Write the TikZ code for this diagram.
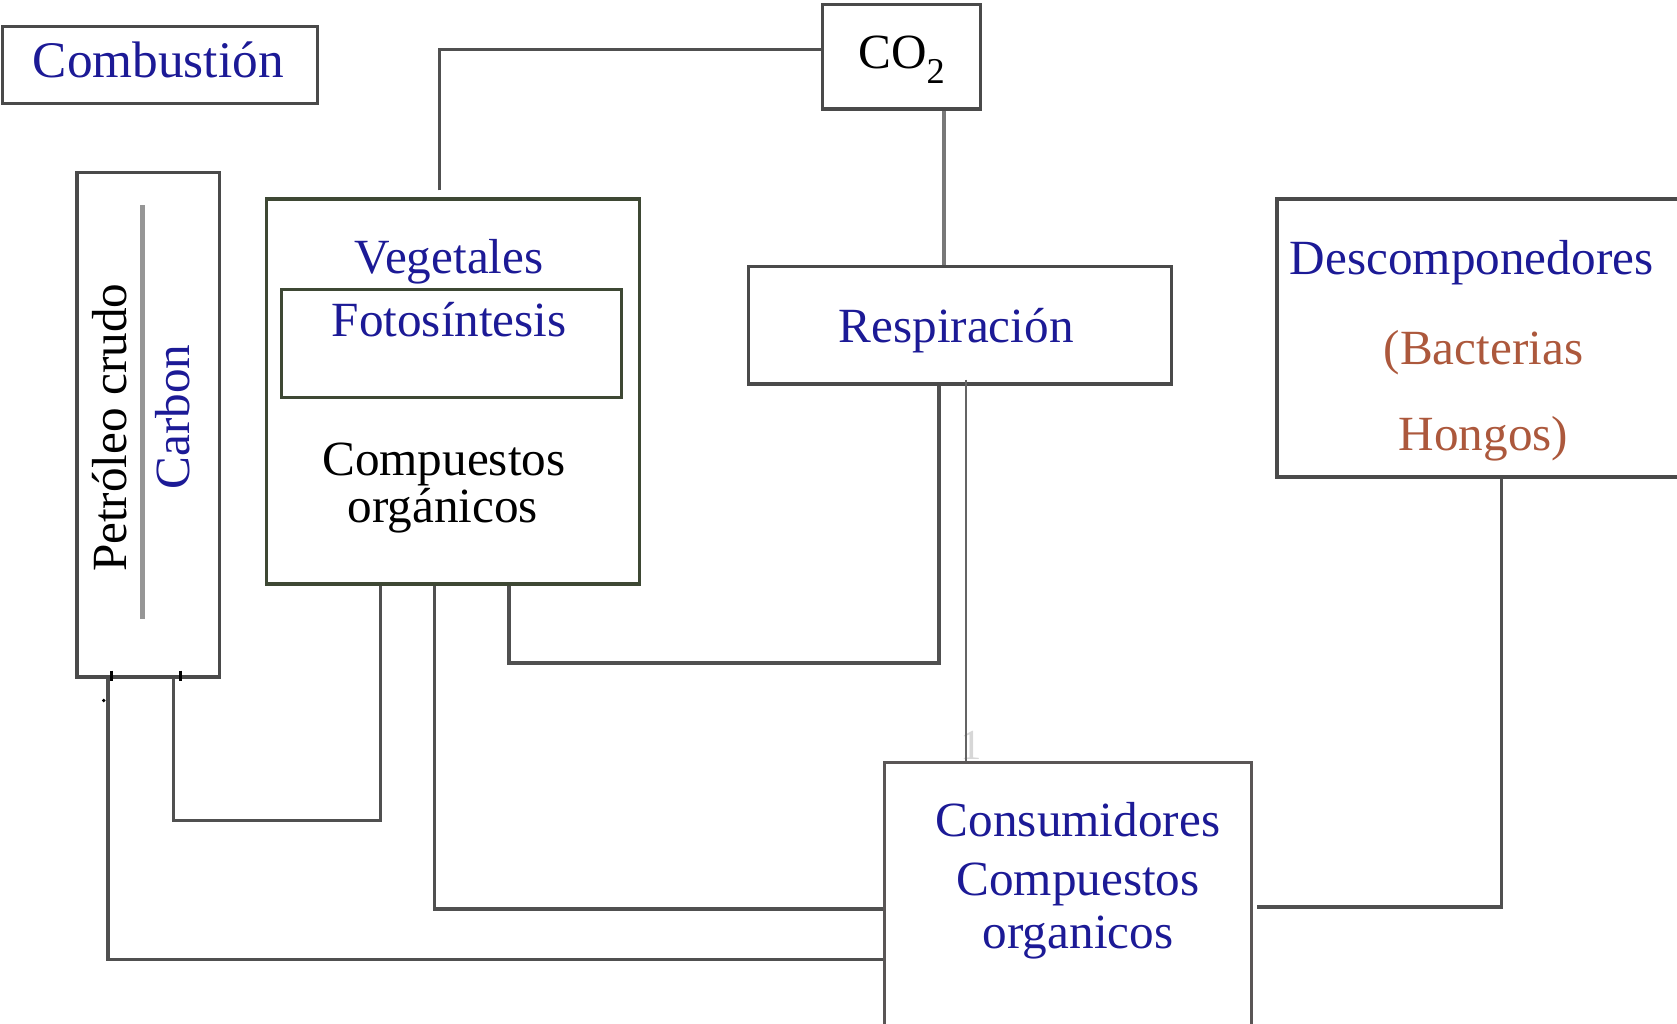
\documentclass[tikz,border=0pt]{standalone}
\usepackage{fontspec}
\setmainfont{Liberation Serif}
\definecolor{txtblue}{RGB}{28,26,150}
\definecolor{txtbrown}{RGB}{172,88,60}
\definecolor{boxgray}{RGB}{74,74,74}
\definecolor{boxolive}{RGB}{62,72,52}
\definecolor{linegray}{RGB}{80,80,80}
\definecolor{midgray}{RGB}{120,120,120}
\definecolor{softgray}{RGB}{150,150,150}
\begin{document}
\begin{tikzpicture}[x=1pt,y=-1pt,
  box/.style={draw=boxgray, line width=3pt, rectangle, inner sep=0pt},
  olivebox/.style={box, draw=boxolive},
  link/.style={draw=linegray, line width=3pt},
  lbl/.style={font=\fontsize{46}{50}\selectfont, anchor=base, inner sep=0pt},
  blue/.style={lbl, text=txtblue},
  brown/.style={lbl, text=txtbrown},
  black/.style={lbl, text=black}]

\useasboundingbox (0,0) rectangle (1568,957);
\clip (0,0) rectangle (1568,957);

% ---- boxes ----
\node[box, minimum width=295pt, minimum height=72pt] (comb) at (149.5,61) {};
\node[box, minimum width=148pt, minimum height=98pt] (co2) at (843,53) {};
\node[box, minimum width=133pt, minimum height=472pt] (pet) at (138.5,397) {};
\node[olivebox, minimum width=349pt, minimum height=360pt] (veg) at (423.5,366) {};
\node[olivebox, minimum width=318pt, minimum height=101pt] (foto) at (422,321.5) {};
\node[box, minimum width=395pt, minimum height=110pt] (resp) at (897.5,304) {};
\node[box, minimum width=390pt, minimum height=260pt] (desc) at (1389,316) {};
\node[box, draw={rgb,255:red,90;green,86;blue,86}, minimum width=343pt, minimum height=260pt] (cons) at (998.5,843) {};

% ---- labels ----
\node[blue, font=\fontsize{48}{52}\selectfont] (tcomb) at (148,72) {Combustión};
\node[black] (tco2) at (843,64) {CO\raisebox{-0.3em}{\fontsize{34}{34}\selectfont 2}};
\node[black, rotate=90] (tpet) at (118,400) {Petróleo crudo};
\node[blue, rotate=90] (tcarb) at (177,390) {Carbon};
\node[blue] (tveg) at (420,256) {Vegetales};
\node[blue] (tfoto) at (420,315) {Fotosíntesis};
\node[black] (tcomp) at (415,445) {Compuestos};
\node[black] (torg) at (414,489) {orgánicos};
\node[blue] (tresp) at (894,320) {Respiración};
\node[blue] (tdesc) at (1376,257) {Descomponedores};
\node[brown] (tbact) at (1387,341) {(Bacterias};
\node[brown] (thong) at (1387,421) {Hongos)};
\node[blue] (tcons) at (1008,782) {Consumidores};
\node[blue] (tcomp2) at (1008,837) {Compuestos};
\node[blue] (torg2) at (1008,887) {organicos};
\node[lbl, text={rgb,255:red,215;green,215;blue,215}, font=\fontsize{40}{44}\selectfont] (tone) at (908,710) {1};

% ---- inner divider of the fossil-fuel box ----
\coordinate (d1) at (133,192);
\coordinate (d2) at (133,579);
\draw[softgray, line width=4.5pt] (d1) -- (d2);

% ---- turning points ----
\coordinate (c0) at (411,46);
\coordinate (c0b) at (411,178);
\coordinate (c7) at (883,0);
\coordinate (c1a) at (356,767);
\coordinate (c1b) at (162,767);
\coordinate (c2) at (406,850);
\coordinate (c3a) at (476,620);
\coordinate (c3b) at (878,620);
\coordinate (c4) at (903,355);
\coordinate (c5) at (101,897);
\coordinate (c6) at (1404,848);
\coordinate (c6b) at (1175,848);

% ---- connectors ----
\draw[link] (c0b) |- (co2.west |- c0);
\draw[link, draw=midgray, line width=3.8pt] (co2.south -| c7) -- (resp.north -| c7);
\draw[link] (veg.south -| c1a) -- (c1a) -- (c1b) -- (pet.south -| c1b);
\draw[link] (veg.south -| c2) |- (cons.west |- c2);
\draw[link] (veg.south -| c3a) -- (c3a) -- (c3b) -- (resp.south -| c3b);
\draw[link, line width=1.8pt, draw={rgb,255:red,100;green,100;blue,100}] (c4) -- (cons.north -| c4);
\draw[link] (cons.west |- c5) -- (c5) -- (pet.south -| c5);
\draw[link] (desc.south -| c6) -- (c6) -- (c6b);

% ---- small marks at the foot of the fossil-fuel box ----
\coordinate (m1) at (104.5,627);
\coordinate (m2) at (169,627);
\draw[black, line width=3pt] (m1) -- ++(0,10);
\draw[black, line width=3pt] (m2) -- ++(0,10);
\fill[black] (97,655) circle (1.8pt);
\end{tikzpicture}
\end{document}
